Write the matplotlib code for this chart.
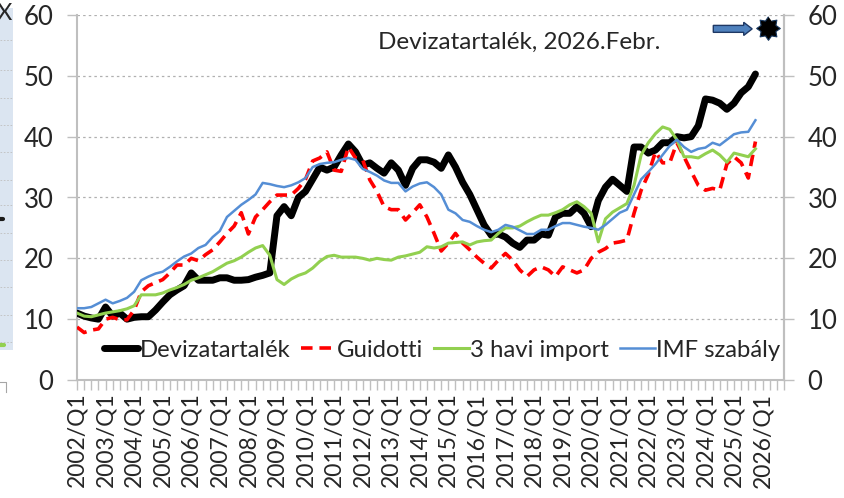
import numpy as np
import matplotlib
matplotlib.use("Agg")
import matplotlib.pyplot as plt
from matplotlib.patches import Rectangle, FancyArrow
from matplotlib.lines import Line2D
from matplotlib.path import Path

plt.rcParams['font.family'] = ['Lato', 'DejaVu Sans']

# quarterly data, 2002/Q1 .. 2025/Q4
devizatartalek = [
    11.0, 10.5, 10.2, 10.0, 12.0, 10.5, 11.0, 10.0, 10.3, 10.4, 10.4, 11.5,
    12.8, 14.0, 14.8, 15.5, 17.6, 16.4, 16.4, 16.4, 16.8, 16.8, 16.4, 16.4,
    16.5, 16.9, 17.2, 17.6, 27.0, 28.5, 27.0, 30.0, 31.0, 33.0, 35.0, 34.5,
    35.0, 37.0, 38.8, 37.5, 35.3, 35.7, 34.8, 34.0, 35.7, 34.5, 32.0, 34.8,
    36.2, 36.2, 35.8, 34.8, 37.0, 35.0, 32.5, 30.5, 28.0, 25.5, 23.8, 24.0,
    23.5, 22.5, 21.8, 23.0, 23.0, 24.0, 23.8, 26.8, 27.4, 27.4, 28.5, 27.4,
    25.2, 29.5, 31.7, 33.0, 32.0, 31.0, 38.3, 38.3, 37.3, 37.8, 39.0, 39.0,
    40.0, 39.8, 40.0, 41.8, 46.2, 46.0, 45.5, 44.5, 45.5, 47.2, 48.2, 50.3,
]
guidotti = [
    8.7, 7.8, 8.2, 8.4, 10.0, 10.3, 9.9, 9.9, 11.5, 14.5, 15.5, 16.0,
    16.5, 17.6, 18.9, 18.9, 20.0, 19.6, 20.6, 21.4, 22.7, 24.1, 25.3, 27.5,
    24.0, 26.8, 28.0, 29.3, 30.4, 30.4, 30.4, 31.5, 33.0, 36.0, 36.5, 37.5,
    34.5, 34.3, 38.3, 36.5, 36.2, 32.9, 31.0, 28.5, 28.0, 28.0, 26.3, 27.5,
    28.8, 26.8, 24.1, 21.2, 22.5, 24.1, 22.5, 21.4, 20.2, 19.2, 18.4, 19.7,
    20.8, 19.7, 18.1, 17.0, 18.1, 18.6, 18.1, 17.0, 18.6, 18.1, 17.6, 18.1,
    20.0, 21.0, 21.6, 22.5, 22.7, 23.0, 27.4, 31.2, 33.8, 37.5, 35.7, 35.7,
    39.0, 36.7, 34.3, 32.0, 31.2, 31.5, 31.2, 35.5, 36.7, 35.7, 33.2, 39.2,
]
havi_import = [
    11.0, 10.5, 10.4, 10.7, 11.0, 11.2, 11.4, 11.7, 12.2, 14.0, 14.0, 14.0,
    14.3, 14.8, 15.2, 15.7, 16.4, 16.8, 17.3, 17.8, 18.5, 19.2, 19.6, 20.2,
    21.0, 21.7, 22.1, 20.5, 16.5, 15.7, 16.6, 17.2, 17.6, 18.4, 19.5, 20.3,
    20.5, 20.2, 20.2, 20.2, 20.0, 19.7, 20.0, 19.8, 19.7, 20.2, 20.4, 20.7,
    21.0, 21.9, 21.7, 21.9, 22.5, 22.6, 22.7, 22.2, 22.7, 22.9, 23.0, 24.1,
    25.0, 25.0, 25.3, 26.0, 26.6, 27.1, 27.1, 27.5, 28.0, 28.8, 29.3, 28.5,
    27.4, 22.7, 26.5, 27.6, 28.3, 29.0, 32.0, 37.0, 39.0, 40.5, 41.6, 41.2,
    39.5, 36.7, 36.7, 36.5, 37.2, 37.8, 37.0, 35.8, 37.3, 37.0, 36.7, 38.0,
]
imf_szabaly = [
    11.8, 11.8, 12.0, 12.6, 13.2, 12.6, 13.0, 13.5, 14.5, 16.4, 17.0, 17.5,
    17.8, 18.6, 19.5, 20.3, 20.8, 21.7, 22.2, 23.5, 24.5, 26.8, 27.8, 28.8,
    29.6, 30.5, 32.4, 32.2, 31.9, 31.7, 32.0, 32.5, 33.2, 35.0, 35.5, 35.7,
    35.8, 36.2, 36.5, 36.2, 34.7, 34.2, 33.6, 32.8, 32.4, 32.4, 31.0, 31.8,
    32.3, 32.5, 31.7, 30.5, 28.0, 27.4, 26.3, 26.0, 25.3, 24.7, 24.3, 24.7,
    25.5, 25.2, 24.6, 24.0, 24.0, 24.7, 24.7, 25.3, 25.8, 25.8, 25.5, 25.2,
    25.0, 24.7, 25.5, 26.5, 27.5, 28.0, 30.5, 33.0, 34.2, 35.5, 37.0, 38.5,
    39.5, 38.3, 37.5, 38.0, 38.2, 39.0, 38.6, 39.5, 40.4, 40.7, 40.8, 42.7,
]

years = list(range(2002, 2027))
tick_labels = [f"{y}/Q1" for y in years]
series_names = ['Devizatartalék', 'Guidotti', '3 havi import', 'IMF szabály']
title_text = 'Devizatartalék, 2026.Febr.'

n_cat = 100  # category axis runs 2002/Q1 .. 2026/Q4
x = np.arange(len(devizatartalek))

fig = plt.figure(figsize=(8.44, 4.98), dpi=100)
ax = fig.add_axes([77 / 844, 118 / 498, 707 / 844, 365 / 498])

grey = '#bfbfbf'
txt = '#262626'

ax.plot(x, devizatartalek, color='black', lw=5.0, solid_joinstyle='round',
        solid_capstyle='round', label=series_names[0], zorder=3)
ax.plot(x, guidotti, color='#ff0000', lw=2.6, ls=(0, (3.2, 1.9)),
        dash_capstyle='butt', label=series_names[1], zorder=4)
ax.plot(x, havi_import, color='#92d050', lw=2.2, solid_joinstyle='round',
        label=series_names[2], zorder=5)
ax.plot(x, imf_szabaly, color='#558ed5', lw=1.8, solid_joinstyle='round',
        label=series_names[3], zorder=6)

ax.set_xlim(0, n_cat - 1)
ax.set_ylim(0, 60)
ax.set_yticks(range(0, 61, 10))
for v in range(10, 61, 10):
    ax.axhline(v, color='#b0b0b0', lw=0.9, ls=(0, (2, 2.5)), zorder=1)

ax.set_xticks(np.arange(0, n_cat, 4))
ax.set_xticklabels(tick_labels, rotation=90, fontsize=16.5, color=txt)
ax.set_xticks(np.arange(0, n_cat), minor=True)
ax.tick_params(axis='x', which='both', length=7, width=1, color=grey, pad=2)
ax.tick_params(axis='y', length=7, width=1, color=grey, labelsize=18.5,
               labelcolor=txt, pad=10)

ax.spines['top'].set_visible(False)
for s in ['left', 'right', 'bottom']:
    ax.spines[s].set_color(grey)
    ax.spines[s].set_linewidth(1.5)

ax2 = ax.twinx()
ax2.set_ylim(0, 60)
ax2.set_yticks(range(0, 61, 10))
ax2.tick_params(axis='y', length=7, width=1, color=grey, labelsize=18.5,
                labelcolor=txt, pad=10)
for s in ['top', 'left', 'bottom']:
    ax2.spines[s].set_visible(False)
ax2.spines['right'].set_color(grey)
ax2.spines['right'].set_linewidth(1.5)

leg = ax.legend(loc='center', bbox_to_anchor=(0.516, 0.082), ncol=4,
                frameon=False, fontsize=17.2, handlelength=1.45,
                handletextpad=0.06, columnspacing=0.45, borderaxespad=0,
                borderpad=0)
for t in leg.get_texts():
    t.set_color(txt)

ax.text(0.426, 0.926, title_text, transform=ax.transAxes, fontsize=17.5,
        color=txt, ha='left', va='center')

# arrow pointing to the marker
ax.add_patch(FancyArrow(0.900, 0.962, 0.055, 0, width=0.019, head_width=0.036,
                        head_length=0.012, length_includes_head=True,
                        transform=ax.transAxes, facecolor='#4f81bd',
                        edgecolor='#1f3864', lw=1.0, zorder=7, clip_on=False))
ang = np.linspace(0, 2 * np.pi, 17)[:-1] + np.pi / 2
rad = np.where(np.arange(16) % 2 == 0, 1.0, 0.68)
star_path = Path(np.column_stack([rad * np.cos(ang), rad * np.sin(ang)]))
ax.plot([0.977], [0.964], transform=ax.transAxes, marker=star_path,
        markersize=17, color='black', markeredgecolor='#17375e',
        markeredgewidth=0.8, clip_on=False, zorder=8)

# cropped neighbouring chart on the left edge
fig.add_artist(Rectangle((0, 148 / 498), 13 / 844, 342 / 498,
                         transform=fig.transFigure, facecolor='#dbe5f1',
                         edgecolor='none'))
for yy in [40, 70, 98, 125, 152, 180, 205, 233, 260, 287, 315, 342]:
    fig.add_artist(Line2D([0, 12 / 844], [1 - yy / 498] * 2,
                          transform=fig.transFigure, color='#bfbfbf',
                          lw=0.6, ls=(0, (2, 2))))
fig.add_artist(Line2D([0, 3 / 844], [1 - 219 / 498] * 2,
                      transform=fig.transFigure, color='#1a1a1a', lw=3,
                      solid_capstyle='round'))
fig.add_artist(Line2D([0, 4 / 844], [1 - 345 / 498] * 2,
                      transform=fig.transFigure, color='#92d050', lw=3,
                      solid_capstyle='round'))
fig.add_artist(Line2D([0, 6 / 844, 6 / 844], [1 - 382 / 498, 1 - 382 / 498,
                      1 - 392 / 498], transform=fig.transFigure,
                      color='#a6a6a6', lw=0.8))
fig.text(-3 / 844, 1 - 14 / 498, 'X', fontsize=17, color=txt,
         ha='left', va='center')

fig.savefig('out.png', dpi=100)
